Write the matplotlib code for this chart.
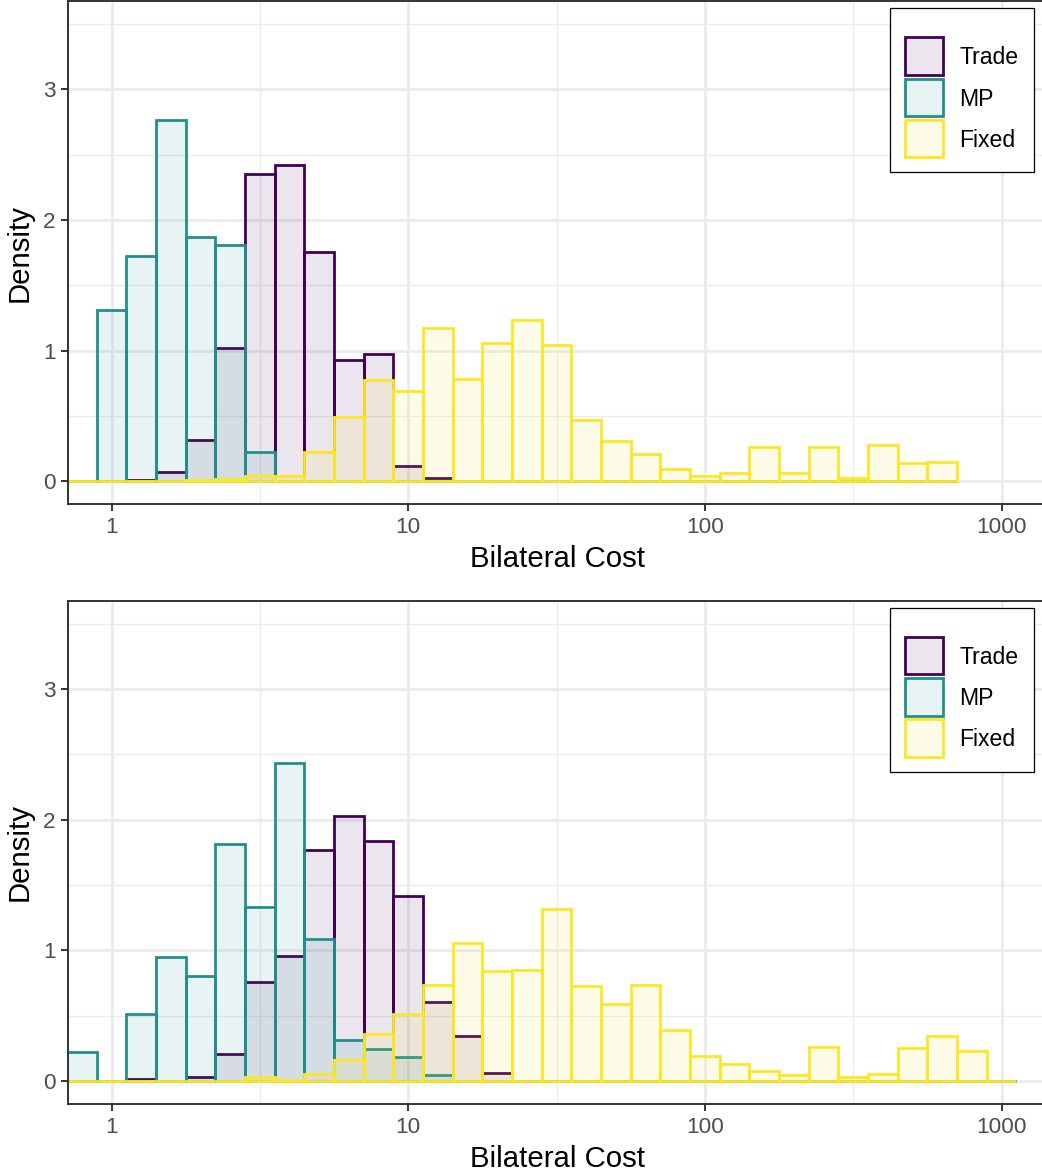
import matplotlib.pyplot as plt
from matplotlib.patches import Rectangle
from matplotlib.colors import to_rgba
from matplotlib.ticker import FixedLocator, NullFormatter
import numpy as np

plt.rcParams['font.family'] = ['Liberation Sans', 'DejaVu Sans']

groups = ['Trade', 'MP', 'Fixed']
colors = ['#440154', '#21908C', '#FDE725']

# histogram bins are 0.1 wide in log10(cost), bin k centred on k*0.1
binwidth = 0.1
first_bin = -1

# upper panel, bins -1 .. 28
trade_top = [0, 0, 0.013, 0.069, 0.32, 1.02, 2.35, 2.424, 1.755, 0.927, 0.976, 0.12, 0.026,
             0, 0, 0, 0, 0, 0, 0, 0, 0, 0, 0, 0, 0, 0, 0, 0, 0]
mp_top = [0, 1.315, 1.729, 2.764, 1.872, 1.813, 0.225,
          0, 0, 0, 0, 0, 0, 0, 0, 0, 0, 0, 0, 0, 0, 0, 0, 0, 0, 0, 0, 0, 0, 0]
fixed_top = [0, 0, 0, 0, 0.013, 0.02, 0.038, 0.038, 0.222, 0.493, 0.774, 0.695, 1.175, 0.782,
             1.056, 1.234, 1.046, 0.472, 0.312, 0.211, 0.099, 0.038, 0.061, 0.261, 0.061,
             0.261, 0.028, 0.282, 0.142, 0.152]

# lower panel, bins -1 .. 30
trade_bot = [0, 0, 0.013, 0, 0.03, 0.204, 0.757, 0.958, 1.766, 2.025, 1.837, 1.414, 0.606,
             0.344, 0.059, 0, 0, 0, 0, 0, 0, 0, 0, 0, 0, 0, 0, 0, 0, 0, 0, 0]
mp_bot = [0.224, 0, 0.51, 0.948, 0.803, 1.809, 1.33, 2.433, 1.088, 0.311, 0.24, 0.183, 0.041,
          0, 0, 0, 0, 0, 0, 0, 0, 0, 0, 0, 0, 0, 0, 0, 0, 0, 0, 0]
fixed_bot = [0, 0, 0, 0, 0, 0, 0.028, 0.005, 0.05, 0.16, 0.36, 0.51, 0.734, 1.058, 0.84,
             0.847, 1.318, 0.725, 0.585, 0.733, 0.392, 0.193, 0.132, 0.079, 0.041, 0.262,
             0.028, 0.053, 0.249, 0.344, 0.232, 0]

W, H = 1042, 1176
fig = plt.figure(figsize=(W / 100, H / 100), dpi=100)


def fx(x):
    return x / W


def fy(y):
    return 1 - y / H


def legend_box(top):
    # legend drawn by hand, box anchored to the panel's top right
    fig.add_artist(Rectangle((fx(890), fy(top + 164)), fx(144), 164 / H,
                             transform=fig.transFigure, facecolor='white',
                             edgecolor='black', lw=0.9, zorder=5))
    for i, (g, c) in enumerate(zip(groups, colors)):
        ky = top + 29 + i * 41.3
        fig.add_artist(Rectangle((fx(905), fy(ky + 37.5)), fx(37.5), 37.5 / H,
                                 transform=fig.transFigure, facecolor=to_rgba(c, 0.1),
                                 edgecolor=c, lw=2.0, zorder=6))
        fig.text(fx(959), fy(ky + 20.5), g, fontsize=16.6, va='center', ha='left', zorder=7)


def panel(top, series):
    left, right, bottom = 68.3, 1046, top + 503
    ax = fig.add_axes([fx(left), fy(bottom), fx(right - left), (bottom - top) / H])
    for vals, col in zip(series, colors):
        k = np.arange(first_bin, first_bin + len(vals))
        lo = 10 ** ((k - 0.5) * binwidth)
        hi = 10 ** ((k + 0.5) * binwidth)
        ax.bar(lo, vals, width=hi - lo, align='edge', facecolor=to_rgba(col, 0.1),
               edgecolor=col, linewidth=2.0)
    ax.set_xscale('log')
    ax.set_xlim(10 ** -0.146, 10 ** 3.15)
    ax.set_ylim(-0.175, 3.675)
    ax.xaxis.set_major_locator(FixedLocator([1, 10, 100, 1000]))
    ax.xaxis.set_minor_locator(FixedLocator([10 ** 0.5, 10 ** 1.5, 10 ** 2.5]))
    ax.xaxis.set_minor_formatter(NullFormatter())
    ax.set_xticklabels(['1', '10', '100', '1000'])
    ax.yaxis.set_major_locator(FixedLocator([0, 1, 2, 3]))
    ax.yaxis.set_minor_locator(FixedLocator([0.5, 1.5, 2.5, 3.5]))
    ax.set_yticklabels(['0', '1', '2', '3'])
    ax.set_axisbelow(True)
    ax.grid(which='major', color='#EBEBEB', lw=2.0)
    ax.grid(which='minor', color='#EBEBEB', lw=1.0)
    ax.tick_params(which='minor', length=0)
    ax.tick_params(which='major', length=5, width=1.4, color='#333333',
                   labelsize=16.2, labelcolor='#4D4D4D', pad=4.3)
    for s in ax.spines.values():
        s.set_color('#333333')
        s.set_linewidth(1.4)
    ax.set_xlabel('Bilateral Cost', fontsize=21.2, labelpad=5)
    ax.set_ylabel('Density', fontsize=21.2, labelpad=6.5)
    legend_box(top + 7)
    return ax


panel(1.3, [trade_top, mp_top, fixed_top])
panel(600.7, [trade_bot, mp_bot, fixed_bot])

fig.savefig('out.png', dpi=100)
